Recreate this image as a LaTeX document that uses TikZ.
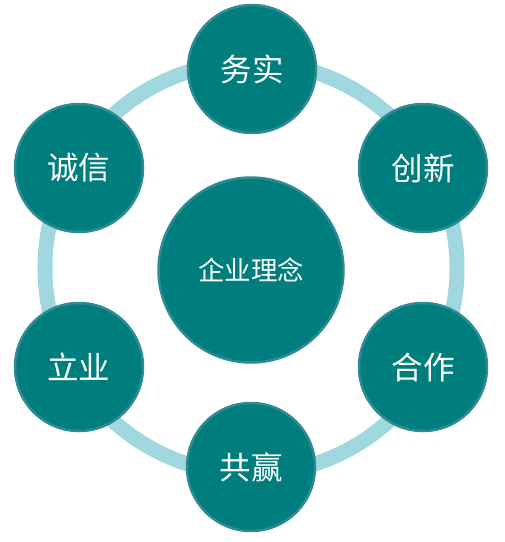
\documentclass[tikz,border=0pt]{standalone}
\usepackage{fontspec}
\newfontfamily\cjk{Noto Sans CJK SC}
\definecolor{teal1}{HTML}{007D7D}
\definecolor{tealedge}{HTML}{2E8A93}
\definecolor{ringc}{HTML}{A1D7DF}
\tikzset{
  outer/.style={circle, fill=teal1, draw=tealedge, line width=2.5pt, minimum size=128pt, inner sep=0pt, text=white, font=\cjk\fontsize{31.5}{31.5}\selectfont},
  inner/.style={circle, fill=teal1, draw=tealedge, line width=2.5pt, minimum size=185pt, inner sep=0pt, text=white, font=\cjk\fontsize{26.5}{26.5}\selectfont}
}
\begin{document}
\begin{tikzpicture}[x=1pt,y=-1pt]
\useasboundingbox (0,0) rectangle (505,542);
\node[circle, draw=ringc, line width=15pt, minimum size=412pt, inner sep=0pt] (ring) at (251,268) {};
\node[inner] (c) at (251,270) {企业理念};
\node[outer] (a) at (252,69) {务实};
\node[outer] (b) at (423,168) {创新};
\node[outer] (d) at (423,367) {合作};
\node[outer] (e) at (251,467) {共赢};
\node[outer] (f) at (79,367) {立业};
\node[outer] (g) at (79,168) {诚信};
\end{tikzpicture}
\end{document}
